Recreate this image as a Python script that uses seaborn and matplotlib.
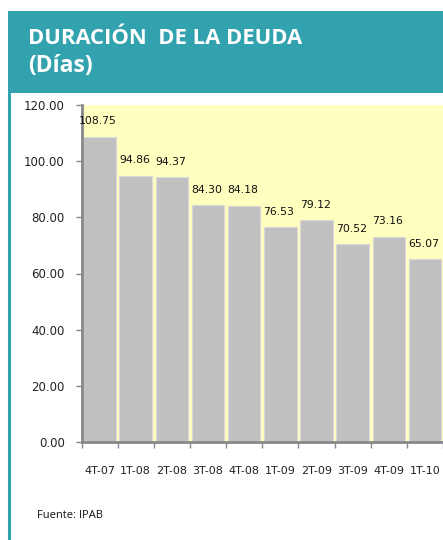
import matplotlib
matplotlib.use("Agg")
import matplotlib.pyplot as plt
from matplotlib.patches import Rectangle
from matplotlib.lines import Line2D
import numpy as np
import pandas as pd
import seaborn as sns

# Quarterly debt duration (days)
periodos = ["4T-07", "1T-08", "2T-08", "3T-08", "4T-08",
            "1T-09", "2T-09", "3T-09", "4T-09", "1T-10"]
duracion = [108.75, 94.86, 94.37, 84.30, 84.18,
            76.53, 79.12, 70.52, 73.16, 65.07]
y_ticks = [0, 20, 40, 60, 80, 100, 120]

TEAL = "#33A2AF"
PLOT_BG = "#FFFFC0"
BAR = "#C0C0C0"
AXIS = "#888888"

sns.set_theme(style="white")
plt.rcParams["font.family"] = ["DejaVu Sans"]

df = pd.DataFrame({"periodo": periodos, "duracion": duracion})

fig = plt.figure(figsize=(4.43, 5.40), dpi=100)
fig.patch.set_facecolor("white")

# header band and left rule
fig.add_artist(Rectangle((8 / 443, 1 - 93 / 540), 1 - 8 / 443, 82 / 540,
                         transform=fig.transFigure, facecolor=TEAL,
                         edgecolor="none", zorder=0))
fig.add_artist(Line2D([9.2 / 443, 9.2 / 443], [0, 1 - 93 / 540],
                      transform=fig.transFigure, color=TEAL, lw=2.2))
fig.text(28 / 443, 1 - 39 / 540, "DURACIÓN  DE LA DEUDA", color="white",
         fontsize=15.8, fontweight="bold", family=["Open Sans", "DejaVu Sans"],
         va="center", ha="left")
fig.text(28 / 443, 1 - 66 / 540, "(Días)", color="white",
         fontsize=16.5, fontweight="bold", family=["Open Sans", "DejaVu Sans"],
         va="center", ha="left")

ax = fig.add_axes([81.5 / 443, 1 - 442 / 540, 1 - 81.5 / 443, 337 / 540])
ax.set_facecolor(PLOT_BG)

sns.barplot(data=df, x="periodo", y="duracion", color=BAR, width=0.9,
            edgecolor="#D9D9D9", linewidth=0.8, saturation=1, ax=ax)

ax.set_xlim(-0.5, len(periodos) - 0.5)
ax.set_ylim(0, 120)
ax.set_yticks(y_ticks)
ax.set_yticklabels([f"{v:.2f}" for v in y_ticks])
ax.set_xlabel("")
ax.set_ylabel("")

for s in ("top", "right"):
    ax.spines[s].set_visible(False)
for s in ("left", "bottom"):
    ax.spines[s].set_color(AXIS)
    ax.spines[s].set_linewidth(2)

ax.tick_params(axis="y", which="major", left=True, length=4, width=1,
               color=AXIS, labelsize=8.5, labelcolor="#222222", pad=8)
ax.tick_params(axis="x", which="major", bottom=False, length=0,
               labelsize=8, labelcolor="#222222", pad=17)
ax.set_xticks(np.arange(len(periodos) + 1) - 0.5, minor=True)
ax.tick_params(axis="x", which="minor", bottom=True, length=4, width=1,
               color=AXIS)

for i, v in enumerate(duracion):
    ax.annotate(f"{v:.2f}", (i, v), xytext=(-1, 11), textcoords="offset points",
                ha="center", va="center", fontsize=7.8, color="#111111",
                annotation_clip=False)

fig.text(37 / 443, 1 - 516 / 540, "Fuente: IPAB", fontsize=8,
         family=["Open Sans", "DejaVu Sans"], color="#111111",
         va="center", ha="left")

fig.savefig("out.png", dpi=100)
